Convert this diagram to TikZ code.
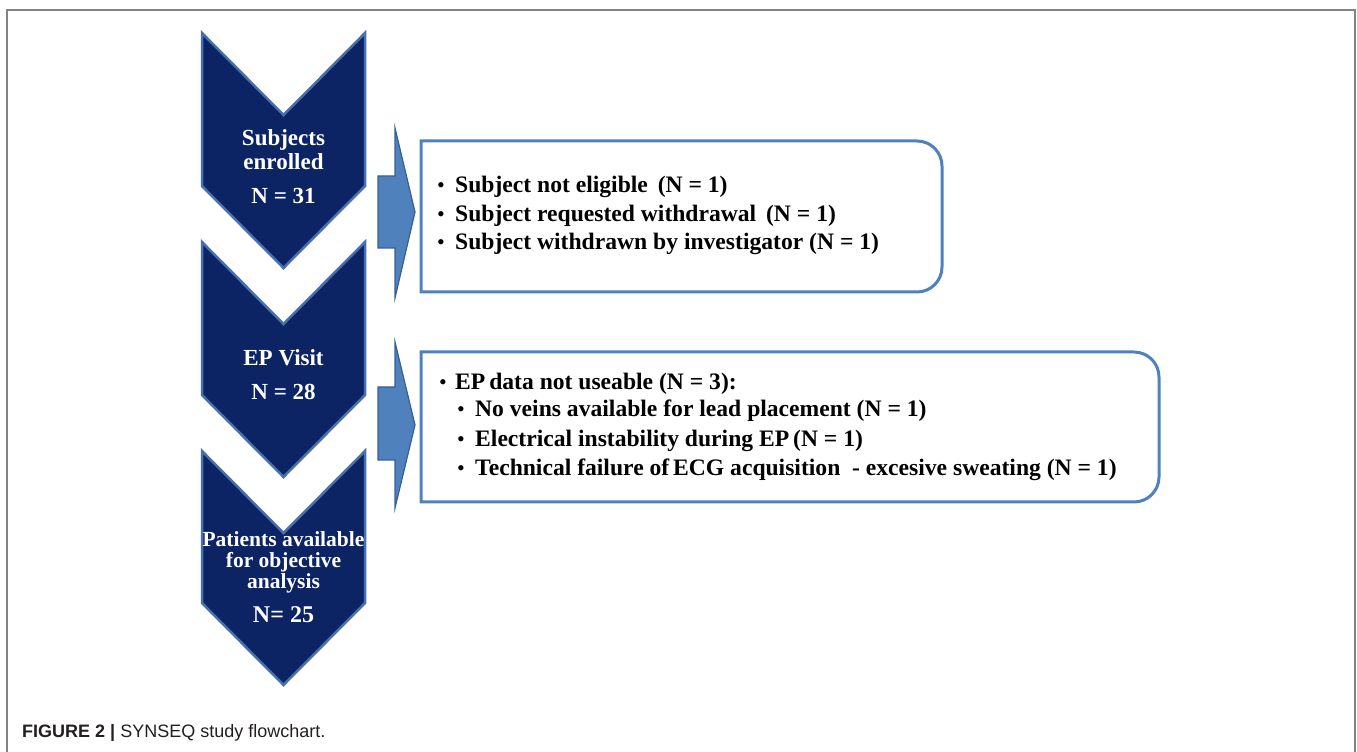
\documentclass[tikz,border=0pt]{standalone}
\usepackage{fontspec}
\setmainfont{Liberation Serif}
\newfontfamily\capfont{Liberation Sans}
\definecolor{navy}{RGB}{12,36,100}
\definecolor{navyedge}{RGB}{72,112,175}
\definecolor{arrowfill}{RGB}{79,129,189}
\definecolor{arrowedge}{RGB}{55,96,146}
\definecolor{boxedge}{RGB}{79,129,189}
\definecolor{framegray}{RGB}{130,130,130}
\definecolor{captext}{RGB}{35,31,32}
\tikzset{
  chev/.style={fill=navy, draw=navyedge, line width=2.5pt, line join=miter},
  blockarrow/.style={fill=arrowfill, draw=arrowedge, line width=1.2pt, line join=miter},
  exitbox/.style={draw=boxedge, line width=3pt, fill=white},
  chevtext/.style={text=white, font=\fontsize{23}{24}\selectfont\bfseries, anchor=base, inner sep=0pt},
  boxtext/.style={font=\fontsize{23.6}{29}\selectfont\bfseries, anchor=base west, inner sep=0pt},
  bul/.style={font=\fontsize{22}{29}\selectfont, anchor=base west, inner sep=0pt},
}
\begin{document}
\begin{tikzpicture}[x=1pt,y=1pt]
\useasboundingbox (0,0) rectangle (1357,752);
% frame
\draw[framegray, line width=2pt] (7,0) -- (7,742) -- (1355,742) -- (1355,0);

% chevrons
\draw[chev] (202,719) -- (283.5,637) -- (365,719) -- (365,566) -- (283.5,484) -- (202,566) -- cycle;
\draw[chev] (202,510) -- (283.5,428) -- (365,510) -- (365,357) -- (283.5,275) -- (202,357) -- cycle;
\draw[chev] (202,301) -- (283.5,219) -- (365,301) -- (365,149) -- (283.5,67) -- (202,149) -- cycle;

% chevron texts
\node[chevtext] (c1a) at (283.5,606) {Subjects};
\node[chevtext] (c1b) at (283.5,582) {enrolled};
\node[chevtext] (c1c) at (283.5,548) {N = 31};
\node[chevtext] (c2a) at (283.5,386) {EP Visit};
\node[chevtext] (c2b) at (283.5,352) {N = 28};
\node[chevtext, font=\fontsize{21.5}{22}\selectfont\bfseries] (c3a) at (283.5,205) {Patients available};
\node[chevtext, font=\fontsize{21.5}{22}\selectfont\bfseries] (c3b) at (283.5,184) {for objective};
\node[chevtext, font=\fontsize{21.5}{22}\selectfont\bfseries] (c3c) at (283.5,163) {analysis};
\node[chevtext, font=\fontsize{24}{24}\selectfont\bfseries] (c3d) at (283.5,129) {N= 25};

% block arrows
\draw[blockarrow] (378,576) -- (395,576) -- (395,624) -- (415,540) -- (395,454) -- (395,504) -- (378,504) -- cycle;
\draw[blockarrow] (378,365) -- (395,365) -- (395,410) -- (415,327) -- (395,244) -- (395,292) -- (378,292) -- cycle;

% boxes
\draw[exitbox] (421,611) -- (917,611) arc[start angle=90, end angle=0, radius=25] -- (942,485) arc[start angle=0, end angle=-90, radius=25] -- (421,460) -- cycle;
\draw[exitbox] (421,400) -- (1134,400) arc[start angle=90, end angle=0, radius=25] -- (1159,275) arc[start angle=0, end angle=-90, radius=25] -- (421,250) -- cycle;

% box 1 text
\node[bul] (b1) at (437,559) {•};
\node[boxtext] (t1) at (455,559) {Subject not eligible\ \,(N = 1)};
\node[bul] (b2) at (437,530) {•};
\node[boxtext] (t2) at (455,530) {Subject requested withdrawal\ \,(N = 1)};
\node[bul] (b3) at (437,502) {•};
\node[boxtext] (t3) at (455,502) {Subject withdrawn by investigator (N = 1)};

% box 2 text
\node[bul] (b4) at (439,362) {•};
\node[boxtext] (t4) at (455,362) {EP\,data not useable (N = 3):};
\node[bul] (b5) at (457,335) {•};
\node[boxtext] (t5) at (475,335) {No veins available for lead placement (N = 1)};
\node[bul] (b6) at (457,305) {•};
\node[boxtext] (t6) at (475,305) {Electrical instability\ during\ EP\,(N = 1)};
\node[bul] (b7) at (457,276) {•};
\node[boxtext] (t7) at (475,276) {Technical failure of\,ECG acquisition\ \ - excesive sweating (N = 1)};

% caption
\node[anchor=base west, inner sep=0pt, text=captext, font=\capfont\fontsize{18}{20}\selectfont] (cap) at (22,14) {\textbf{FIGURE 2 |} SYNSEQ study flowchart.};
\end{tikzpicture}
\end{document}
